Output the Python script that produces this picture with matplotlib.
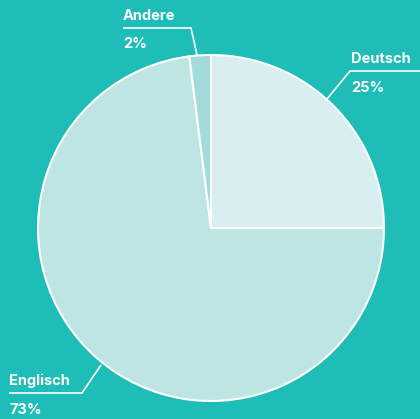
import matplotlib
matplotlib.use('Agg')
import matplotlib.pyplot as plt

labels = ['Deutsch', 'Englisch', 'Andere']
shares = [25, 73, 2]
colors = ['#d9eef0', '#bde5e4', '#a3dbd9']
bg = '#1ebdb7'

W, H = 420, 419
fig = plt.figure(figsize=(W / 100, H / 100), dpi=100, facecolor=bg)
ax = fig.add_axes([0, 0, 1, 1])
ax.set_facecolor(bg)

cx, cy, r = 211, H - 228, 173
ax.pie(shares, colors=colors, startangle=90, counterclock=False,
       center=(cx, cy), radius=r,
       wedgeprops=dict(edgecolor='white', linewidth=1.5))
ax.set_xlim(0, W)
ax.set_ylim(0, H)
ax.set_aspect('auto')
ax.axis('off')

# leader lines (pixel coords, y down) and label anchors
callouts = {
    'Deutsch': ([(327, 99), (350, 71), (420, 71)], (351, 71)),
    'Englisch': ([(101, 365), (82, 393), (9, 393)], (9, 393)),
    'Andere': ([(197, 55), (191, 28), (123, 28)], (123, 28)),
}
for name, val in zip(labels, shares):
    pts, (tx, ty) = callouts[name]
    ax.plot([p[0] for p in pts], [H - p[1] for p in pts], color='white', lw=1.2,
            solid_capstyle='butt')
    ax.text(tx, H - ty + 5, name, color='white', fontsize=10.5, fontweight='bold',
            family='Inter', ha='left', va='bottom')
    ax.text(tx, H - ty - 9.5, f'{val}%', color='white', fontsize=10.5, fontweight='bold',
            family='Inter', ha='left', va='top')

fig.savefig('out.png', dpi=100, facecolor=bg)
